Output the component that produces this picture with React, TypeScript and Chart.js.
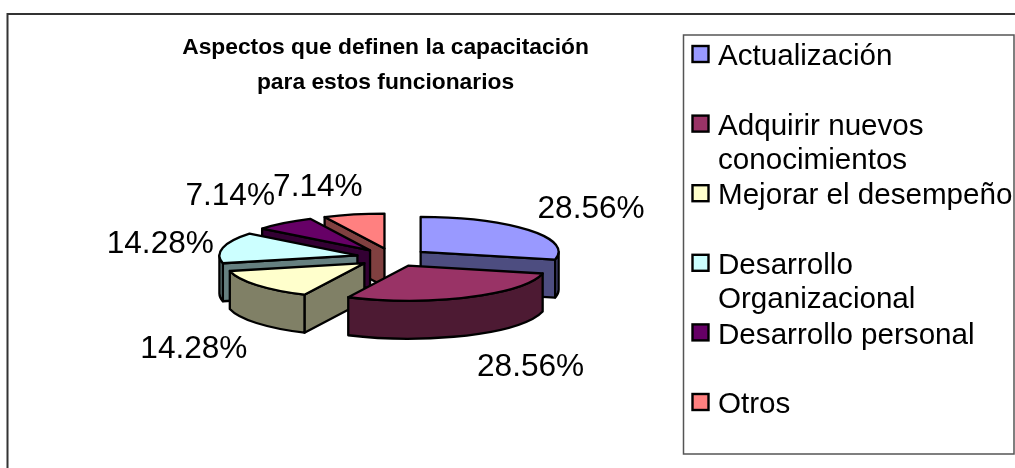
import React, { useEffect, useRef } from "react";
import { Chart, registerables } from "chart.js";

Chart.register(...registerables);

const titleLines = ["Aspectos que definen la capacitación", "para estos funcionarios"];
const categories = [
  ["Actualización"],
  ["Adquirir nuevos", "conocimientos"],
  ["Mejorar el desempeño"],
  ["Desarrollo", "Organizacional"],
  ["Desarrollo personal"],
  ["Otros"],
];
const shares = [28.56, 28.56, 14.28, 14.28, 7.14, 7.14];
const topColors = ["#9999FF", "#993366", "#FFFFCC", "#CCFFFF", "#660066", "#FF8080"];
const sideColors = ["#4D4D80", "#4D1A33", "#808066", "#668080", "#330033", "#804040"];
const paintOrder = [5, 4, 0, 3, 2, 1];
const labelNudgeY = [-1, 0, 4, 3, -2, 4];

const FONT = '"Liberation Sans", Arial, sans-serif';
const PIE_X = 392.5, PIE_Y = 257.5, RADIUS = 138, TILT = 0.2536, DEPTH = 38, EXPLODE = 36;

const pie3d = {
  id: "pie3d",
  beforeDraw(chart: any) {
    const ctx = chart.ctx;
    ctx.save();
    ctx.strokeStyle = "#333";
    ctx.lineWidth = 2;
    ctx.strokeRect(7.5, 14, 1040, 480);
    ctx.strokeStyle = "#555";
    ctx.lineWidth = 1.5;
    ctx.fillStyle = "#fff";
    ctx.fillRect(683.5, 35, 330.5, 419);
    ctx.strokeRect(683.5, 35, 330.5, 419);
    ctx.restore();
  },
  beforeDatasetDraw(chart: any, args: any) {
    const ctx = chart.ctx;
    const arcs = args.meta.data;
    paintOrder.forEach((i) => {
      const el = arcs[i];
      const a0 = el.startAngle, a1 = el.endAngle, mid = (a0 + a1) / 2, r = el.outerRadius;
      const ox = PIE_X + Math.cos(mid) * EXPLODE;
      const oy = PIE_Y + Math.sin(mid) * EXPLODE * TILT;
      const px = (a: number) => ox + Math.cos(a) * r;
      const py = (a: number) => oy + Math.sin(a) * r * TILT;
      ctx.save();
      ctx.lineJoin = "round";
      ctx.lineWidth = 2.3;
      ctx.strokeStyle = "#000";
      ctx.fillStyle = sideColors[i];
      const radial = (a: number) => {
        ctx.beginPath();
        ctx.moveTo(ox, oy);
        ctx.lineTo(px(a), py(a));
        ctx.lineTo(px(a), py(a) + DEPTH);
        ctx.lineTo(ox, oy + DEPTH);
        ctx.closePath();
        ctx.fill();
        ctx.stroke();
      };
      // radial cut faces that look towards the viewer
      if (Math.cos(a0) < 0 && Math.sin(a0) !== 0 && a0 > Math.PI / 2) radial(a0);
      if (Math.cos(a1) > 0 && a1 < Math.PI / 2 && a1 > -Math.PI / 2) radial(a1);
      // outer rim on the front half
      const from = Math.max(a0, 0), to = Math.min(a1, Math.PI);
      if (to > from) {
        ctx.beginPath();
        ctx.ellipse(ox, oy, r, r * TILT, 0, from, to);
        ctx.ellipse(ox, oy + DEPTH, r, r * TILT, 0, to, from, true);
        ctx.closePath();
        ctx.fill();
        ctx.stroke();
      }
      // top face: the library's own arc, flattened
      ctx.save();
      ctx.translate(ox, oy);
      ctx.scale(1, TILT);
      ctx.translate(-el.x, -el.y);
      el.draw(ctx);
      ctx.restore();
      ctx.beginPath();
      ctx.moveTo(ox, oy);
      ctx.ellipse(ox, oy, r, r * TILT, 0, a0, a1);
      ctx.closePath();
      ctx.stroke();
      ctx.restore();
    });
    return false;
  },
  afterDraw(chart: any) {
    const ctx = chart.ctx;
    const meta = chart.getDatasetMeta(0);
    ctx.save();
    ctx.fillStyle = "#000";
    // percentage labels
    ctx.font = `31.6px ${FONT}`;
    ctx.textAlign = "center";
    ctx.textBaseline = "middle";
    meta.data.forEach((el: any, i: number) => {
      const mid = (el.startAngle + el.endAngle) / 2;
      const text = shares[i].toFixed(2) + "%";
      const w = ctx.measureText(text).width;
      const c = Math.cos(mid), s = Math.sin(mid);
      const ax = PIE_X + c * (el.outerRadius + EXPLODE);
      const ay = PIE_Y + s * (el.outerRadius + EXPLODE) * TILT + (s > 0 ? DEPTH : 0);
      const side = Math.max(-1, Math.min(1, c * 3));
      ctx.fillText(text, ax + side * (w / 2 + 9), ay + s * 34 + 1.5 + labelNudgeY[i]);
    });
    // legend
    ctx.textAlign = "left";
    ctx.font = `29.6px ${FONT}`;
    categories.forEach((lines, i) => {
      const y = 55 + i * 69.6;
      ctx.fillStyle = topColors[i];
      ctx.strokeStyle = "#000";
      ctx.lineWidth = 2.4;
      ctx.fillRect(692.5, y - 9, 16, 16);
      ctx.strokeRect(692.5, y - 9, 16, 16);
      ctx.fillStyle = "#000";
      lines.forEach((t, j) => ctx.fillText(t, 718, y + 2 + j * 34));
    });
    ctx.restore();
  },
};

export default function App() {
  const ref = useRef<HTMLCanvasElement>(null);
  useEffect(() => {
    document.body.style.margin = "0";
    const chart = new Chart(ref.current as HTMLCanvasElement, {
      type: "pie",
      data: {
        labels: categories.map((c) => c.join(" ")),
        datasets: [{ data: shares, backgroundColor: topColors, borderWidth: 0, radius: RADIUS } as any],
      },
      options: {
        responsive: false,
        animation: false,
        events: [],
        radius: RADIUS,
        layout: { padding: { left: 0, right: 244, top: 30, bottom: 0 } },
        plugins: {
          legend: { display: false },
          tooltip: { enabled: false },
          title: {
            display: true,
            text: titleLines,
            color: "#000",
            font: { family: FONT, size: 22.8, weight: "bold", lineHeight: 1.54 },
            padding: 0,
          },
        },
      } as any,
      plugins: [pie3d],
    });
    return () => chart.destroy();
  }, []);
  return <canvas ref={ref} width={1015} height={468} style={{ display: "block" }} />;
}
